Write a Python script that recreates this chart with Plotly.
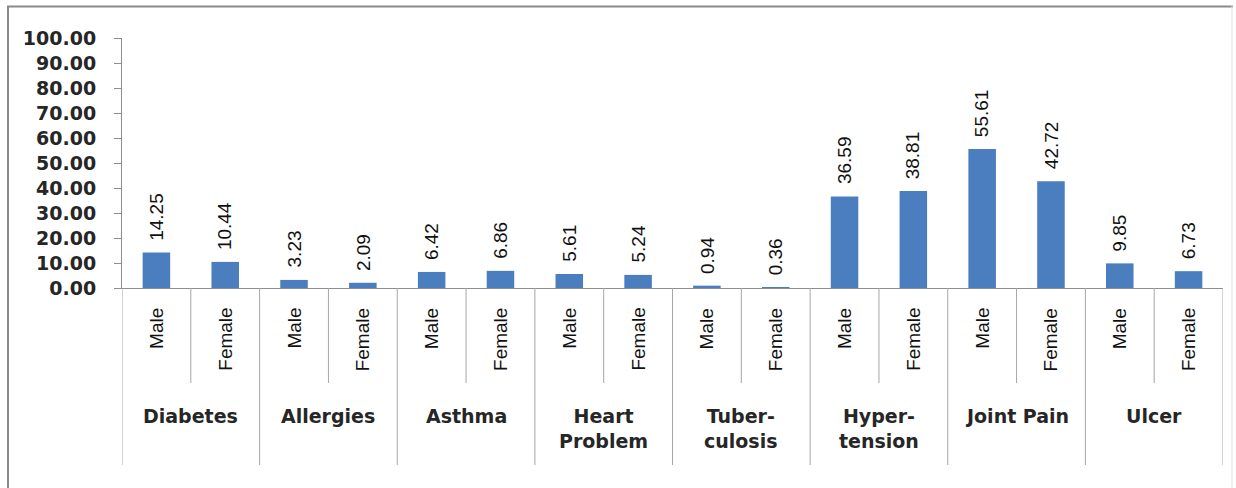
import plotly.graph_objects as go

# ---------------- data ----------------
diseases = ["Diabetes", "Allergies", "Asthma", "Heart<br>Problem", "Tuber-<br>culosis",
            "Hyper-<br>tension", "Joint Pain", "Ulcer"]
sexes = ["Male", "Female"]
male_values = [14.25, 3.23, 6.42, 5.61, 0.94, 36.59, 55.61, 9.85]
female_values = [10.44, 2.09, 6.86, 5.24, 0.36, 38.81, 42.72, 6.73]
y_ticks = [0, 10, 20, 30, 40, 50, 60, 70, 80, 90, 100]

# ---------------- build series ----------------
values = []
for m, f in zip(male_values, female_values):
    values += [m, f]
idx = list(range(len(values)))
sex_labels = [sexes[i % 2] for i in idx]

# pixel geometry of the plot area
W, H = 1236, 488
L, R, T, B = 122, 1223, 38, 288


def py(p):
    return (B - p) / (B - T)


def px(p):
    return (p - L) / (R - L)


BAR = "#4A7EBF"
AXIS = "#8E8E8E"
NARROW = "Liberation Sans, Arial, sans-serif"
BOLD = "DejaVu Sans, Verdana, sans-serif"

fig = go.Figure()
fig.add_trace(go.Bar(x=idx, y=values, marker=dict(color=BAR, line=dict(width=0)),
                     width=0.4, hoverinfo="skip"))

annotations = []
# data labels
for i, v in zip(idx, values):
    annotations.append(dict(x=i, y=v, xref="x", yref="y", text=f"{v:.2f}",
                            textangle=-90, showarrow=False, xanchor="center",
                            yanchor="bottom", yshift=10,
                            font=dict(family=NARROW, size=19, color="#111111")))
# Male / Female labels
for i, s in zip(idx, sex_labels):
    annotations.append(dict(x=i, y=py(306), xref="x", yref="paper", text=s,
                            textangle=-90, showarrow=False, xanchor="center",
                            yanchor="top",
                            font=dict(family=NARROW, size=19, color="#111111")))
# group labels
for k, d in enumerate(diseases):
    annotations.append(dict(x=2 * k + 0.5, y=py(403), xref="x", yref="paper", text=d,
                            showarrow=False, xanchor="center", yanchor="top",
                            align="center",
                            font=dict(family=BOLD, size=19, color="#262626", weight="bold")))

shapes = []
# separators between Male and Female
for k in range(len(diseases)):
    shapes.append(dict(type="line", xref="x", yref="paper", x0=2 * k + 0.5, x1=2 * k + 0.5,
                       y0=0, y1=py(383), line=dict(color="#A6A6A6", width=1)))
# separators between groups
for k in range(len(diseases) + 1):
    shapes.append(dict(type="line", xref="x", yref="paper", x0=2 * k - 0.5, x1=2 * k - 0.5,
                       y0=0, y1=py(465), line=dict(color="#A6A6A6", width=1)))
# outer chart border
shapes.append(dict(type="line", xref="paper", yref="paper", x0=px(8), x1=px(8),
                   y0=py(6), y1=py(492), line=dict(color="#8A8A8A", width=2)))
shapes.append(dict(type="line", xref="paper", yref="paper", x0=px(7), x1=px(1233),
                   y0=py(6.5), y1=py(6.5), line=dict(color="#8A8A8A", width=2)))
shapes.append(dict(type="line", xref="paper", yref="paper", x0=px(1232), x1=px(1232),
                   y0=py(6), y1=py(492), line=dict(color="#E2E2E2", width=1)))

fig.update_layout(
    width=W, height=H,
    margin=dict(l=L, r=W - R, t=T, b=H - B),
    paper_bgcolor="white", plot_bgcolor="white",
    showlegend=False,
    bargap=0.6,
    annotations=annotations,
    shapes=shapes,
    xaxis=dict(range=[-0.5, len(values) - 0.5], showticklabels=False, showgrid=False,
               zeroline=False, showline=True, linecolor=AXIS, linewidth=1, ticks="",
               fixedrange=True),
    yaxis=dict(range=[0, 100], tickvals=y_ticks, ticktext=[f"{t:.2f}" for t in y_ticks],
               showgrid=False, zeroline=False, showline=True, linecolor=AXIS, linewidth=1,
               ticks="outside", ticklen=7, tickcolor=AXIS, ticklabelstandoff=14,
               tickfont=dict(family=BOLD, size=19, color="#262626", weight="bold"),
               fixedrange=True),
)

fig.write_html("out.html", config={"displayModeBar": False},
               post_script="document.body.style.margin='0';document.body.style.overflow='hidden';")
